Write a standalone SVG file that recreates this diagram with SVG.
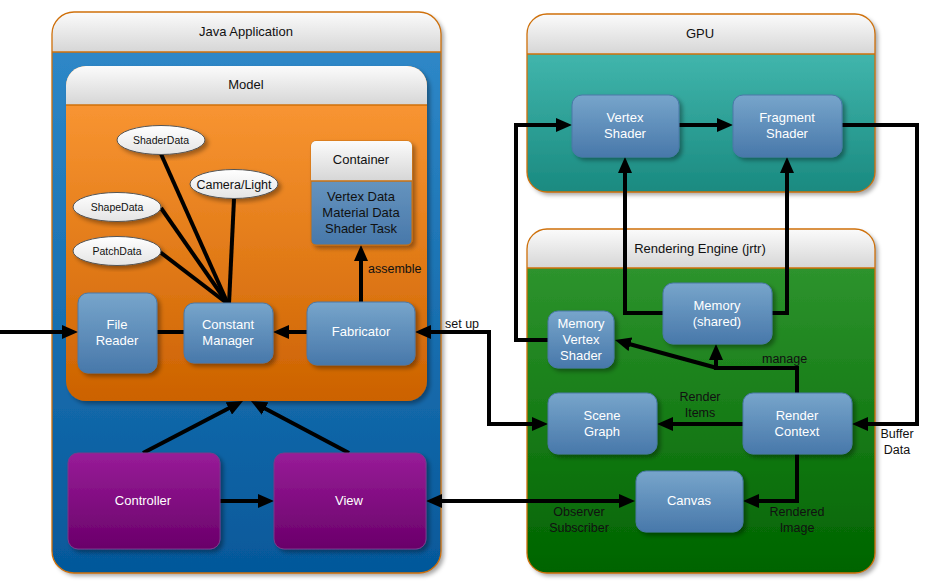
<svg xmlns="http://www.w3.org/2000/svg" width="930" height="586" viewBox="0 0 930 586">
<style>
.t{font-family:"Liberation Sans",Arial,sans-serif;font-size:13px;text-anchor:middle;fill:#111}
.w{font-family:"Liberation Sans",Arial,sans-serif;font-size:13px;text-anchor:middle;fill:#fff}
.l{font-family:"Liberation Sans",Arial,sans-serif;font-size:12.5px;fill:#111}
.e{font-family:"Liberation Sans",Arial,sans-serif;font-size:10.5px;text-anchor:middle;fill:#111}
.node{fill:url(#gBlue);stroke:#4a78a8;stroke-width:1;filter:url(#sh)}
.purple{fill:url(#gPurple);stroke:#7a3a8a;stroke-width:1;filter:url(#sh)}
.hdr{fill:url(#gHdr)}
.frame{fill:none;stroke:#d0700a;stroke-width:1.3}
.c{fill:none;stroke:#000;stroke-width:4;stroke-linejoin:miter}
.a{marker-end:url(#ah)}
.b{marker-start:url(#ah);marker-end:url(#ah)}
.ell{fill:url(#gEll);stroke:#555;stroke-width:1;filter:url(#sh)}
</style>
<defs>
<linearGradient id="gBlue" x1="0" y1="0" x2="0" y2="1"><stop offset="0" stop-color="#77a5cb"/><stop offset="1" stop-color="#4878aa"/></linearGradient>
<linearGradient id="gPurple" x1="0" y1="0" x2="0" y2="1"><stop offset="0" stop-color="#981c98"/><stop offset="1" stop-color="#6a006a"/></linearGradient>
<linearGradient id="gHdr" x1="0" y1="0" x2="0" y2="1"><stop offset="0" stop-color="#fbfbfb"/><stop offset="1" stop-color="#d6d6d6"/></linearGradient>
<linearGradient id="gJava" x1="0" y1="0" x2="0" y2="1"><stop offset="0" stop-color="#318bcb"/><stop offset="1" stop-color="#05589a"/></linearGradient>
<linearGradient id="gModel" x1="0" y1="0" x2="0" y2="1"><stop offset="0" stop-color="#fe9b38"/><stop offset="1" stop-color="#cc6200"/></linearGradient>
<linearGradient id="gGpu" x1="0" y1="0" x2="0" y2="1"><stop offset="0" stop-color="#4cc2b9"/><stop offset="1" stop-color="#1a8a80"/></linearGradient>
<linearGradient id="gRend" x1="0" y1="0" x2="0" y2="1"><stop offset="0" stop-color="#339933"/><stop offset="1" stop-color="#006400"/></linearGradient>
<linearGradient id="gEll" x1="0" y1="0" x2="0" y2="1"><stop offset="0" stop-color="#ffffff"/><stop offset="1" stop-color="#e4e4e4"/></linearGradient>
<filter id="sh" x="-20%" y="-20%" width="140%" height="140%"><feDropShadow dx="3" dy="3" stdDeviation="2" flood-color="#000" flood-opacity="0.35"/></filter>
<marker id="ah" viewBox="0 0 16 14" refX="6" refY="7" markerWidth="16" markerHeight="14" markerUnits="userSpaceOnUse" orient="auto-start-reverse"><path d="M0,0 L16,7 L0,14 z" fill="#000"/></marker>
</defs>

<g id="java-application">
<rect x="52" y="12" width="389" height="561" rx="22" fill="url(#gJava)" filter="url(#sh)"/>
<path class="hdr" d="M52,52 V34 A22,22 0 0 1 74,12 H419 A22,22 0 0 1 441,34 V52 Z"/>
<line x1="52" y1="52" x2="441" y2="52" stroke="#d0700a" stroke-width="1.3"/>
<rect class="frame" x="52" y="12" width="389" height="561" rx="22"/>
<text class="t" x="246" y="36">Java Application</text>
</g>

<g id="model">
<rect x="66" y="66" width="361" height="335" rx="20" fill="url(#gModel)" filter="url(#sh)"/>
<path class="hdr" d="M66,105 V86 A20,20 0 0 1 86,66 H407 A20,20 0 0 1 427,86 V105 Z"/>
<line x1="66" y1="105" x2="427" y2="105" stroke="#d0700a" stroke-width="1.3"/>
<text class="t" x="246" y="89">Model</text>
</g>

<g id="gpu">
<rect x="527" y="14" width="348" height="178" rx="20" fill="url(#gGpu)" filter="url(#sh)"/>
<path class="hdr" d="M527,54 V34 A20,20 0 0 1 547,14 H855 A20,20 0 0 1 875,34 V54 Z"/>
<line x1="527" y1="54" x2="875" y2="54" stroke="#d0700a" stroke-width="1.3"/>
<rect class="frame" x="527" y="14" width="348" height="178" rx="20"/>
<text class="t" x="700" y="38">GPU</text>
</g>

<g id="rendering-engine">
<rect x="527" y="229" width="348" height="344" rx="20" fill="url(#gRend)" filter="url(#sh)"/>
<path class="hdr" d="M527,268 V249 A20,20 0 0 1 547,229 H855 A20,20 0 0 1 875,249 V268 Z"/>
<line x1="527" y1="268" x2="875" y2="268" stroke="#d0700a" stroke-width="1.3"/>
<rect class="frame" x="527" y="229" width="348" height="344" rx="20"/>
<text class="t" x="700" y="253">Rendering Engine (jrtr)</text>
</g>

<g id="connectors">
<line class="c" x1="161" y1="154" x2="228" y2="304"/>
<line class="c" x1="234" y1="199" x2="229" y2="304"/>
<line class="c" x1="161" y1="208" x2="228" y2="304"/>
<line class="c" x1="160" y1="252" x2="228" y2="304"/>
<path class="c a" d="M0,332 H68"/>
<path class="c" d="M157,332 H184"/>
<path class="c a" d="M307,332 H283"/>
<path class="c a" d="M361,302 V255"/>
<path class="c b" d="M425,332 H489 V424 H538"/>
<path class="c a" d="M143,453 L234.1,405.6"/>
<path class="c a" d="M349,453 L259.8,405.7"/>
<path class="c a" d="M220,501 H264"/>
<path class="c b" d="M436,501 H625"/>
<path class="c a" d="M679,125 H723"/>
<path class="c a" d="M548,340 H516 V125 H562"/>
<path class="c a" d="M842,125 H917 V424 H862"/>
<path class="c a" d="M663,313 H625 V167"/>
<path class="c a" d="M772,313 H787 V167"/>
<path class="c a" d="M743,424 H667"/>
<path class="c a" d="M797,393 V368 H716 V354"/>
<path class="c a" d="M717,368 L624.6,342.7"/>
<path class="c a" d="M797,454 V501 H753"/>
<text class="l" x="445" y="328">set up</text>
<text class="l" x="368" y="273">assemble</text>
<text class="l" x="762" y="363">manage</text>
<text class="l" x="700" y="401" text-anchor="middle">Render</text>
<text class="l" x="700" y="417" text-anchor="middle">Items</text>
<text class="l" x="897" y="438" text-anchor="middle">Buffer</text>
<text class="l" x="897" y="454" text-anchor="middle">Data</text>
<text class="l" x="579" y="516" text-anchor="middle">Observer</text>
<text class="l" x="579" y="532" text-anchor="middle">Subscriber</text>
<text class="l" x="797" y="516" text-anchor="middle">Rendered</text>
<text class="l" x="797" y="532" text-anchor="middle">Image</text>
</g>

<g id="shaderdata"><ellipse class="ell" cx="161" cy="140" rx="44" ry="14.5"/><text class="e" x="161" y="144">ShaderData</text></g>
<g id="camera-light"><ellipse class="ell" cx="234" cy="184" rx="44" ry="14.5"/><text class="t" x="234" y="189" style="font-size:12.5px">Camera/Light</text></g>
<g id="shapedata"><ellipse class="ell" cx="117" cy="207" rx="44" ry="14.5"/><text class="e" x="117" y="211">ShapeData</text></g>
<g id="patchdata"><ellipse class="ell" cx="117" cy="251" rx="44" ry="14.5"/><text class="e" x="117" y="255">PatchData</text></g>

<g id="container">
<rect x="311" y="141" width="101" height="104" rx="5" fill="url(#gBlue)" stroke="#c87010" stroke-width="1" filter="url(#sh)"/>
<path class="hdr" d="M311,181 V146 A5,5 0 0 1 316,141 H407 A5,5 0 0 1 412,146 V181 Z"/>
<line x1="311" y1="181" x2="412" y2="181" stroke="#c87010" stroke-width="1.3"/>
<text class="t" x="361" y="164">Container</text>
<text class="t" x="361" y="201">Vertex Data</text>
<text class="t" x="361" y="217">Material Data</text>
<text class="t" x="361" y="233">Shader Task</text>
</g>

<g id="file-reader"><rect class="node" x="78" y="293" width="79" height="80" rx="10"/><text class="w" x="117" y="329">File</text><text class="w" x="117" y="345">Reader</text></g>
<g id="constant-manager"><rect class="node" x="184" y="303" width="89" height="60" rx="10"/><text class="w" x="228" y="329">Constant</text><text class="w" x="228" y="345">Manager</text></g>
<g id="fabricator"><rect class="node" x="307" y="302" width="108" height="63" rx="10"/><text class="w" x="361" y="336">Fabricator</text></g>

<g id="controller"><rect class="purple" x="68" y="453" width="152" height="96" rx="10"/><text class="w" x="143" y="505">Controller</text></g>
<g id="view"><rect class="purple" x="274" y="453" width="152" height="96" rx="10"/><text class="w" x="349" y="505">View</text></g>

<g id="vertex-shader"><rect class="node" x="572" y="95" width="107" height="62" rx="10"/><text class="w" x="625" y="122">Vertex</text><text class="w" x="625" y="138">Shader</text></g>
<g id="fragment-shader"><rect class="node" x="733" y="95" width="109" height="62" rx="10"/><text class="w" x="787" y="122">Fragment</text><text class="w" x="787" y="138">Shader</text></g>

<g id="memory-shared"><rect class="node" x="663" y="283" width="109" height="61" rx="10"/><text class="w" x="717" y="310">Memory</text><text class="w" x="717" y="326">(shared)</text></g>
<g id="memory-vertex-shader"><rect class="node" x="548" y="311" width="66" height="57" rx="10"/><text class="w" x="581" y="328">Memory</text><text class="w" x="581" y="344">Vertex</text><text class="w" x="581" y="360">Shader</text></g>
<g id="scene-graph"><rect class="node" x="548" y="393" width="109" height="61" rx="10"/><text class="w" x="602" y="420">Scene</text><text class="w" x="602" y="436">Graph</text></g>
<g id="render-context"><rect class="node" x="743" y="393" width="109" height="61" rx="10"/><text class="w" x="797" y="420">Render</text><text class="w" x="797" y="436">Context</text></g>
<g id="canvas"><rect class="node" x="636" y="471" width="107" height="61" rx="10"/><text class="w" x="689" y="505">Canvas</text></g>
</svg>
